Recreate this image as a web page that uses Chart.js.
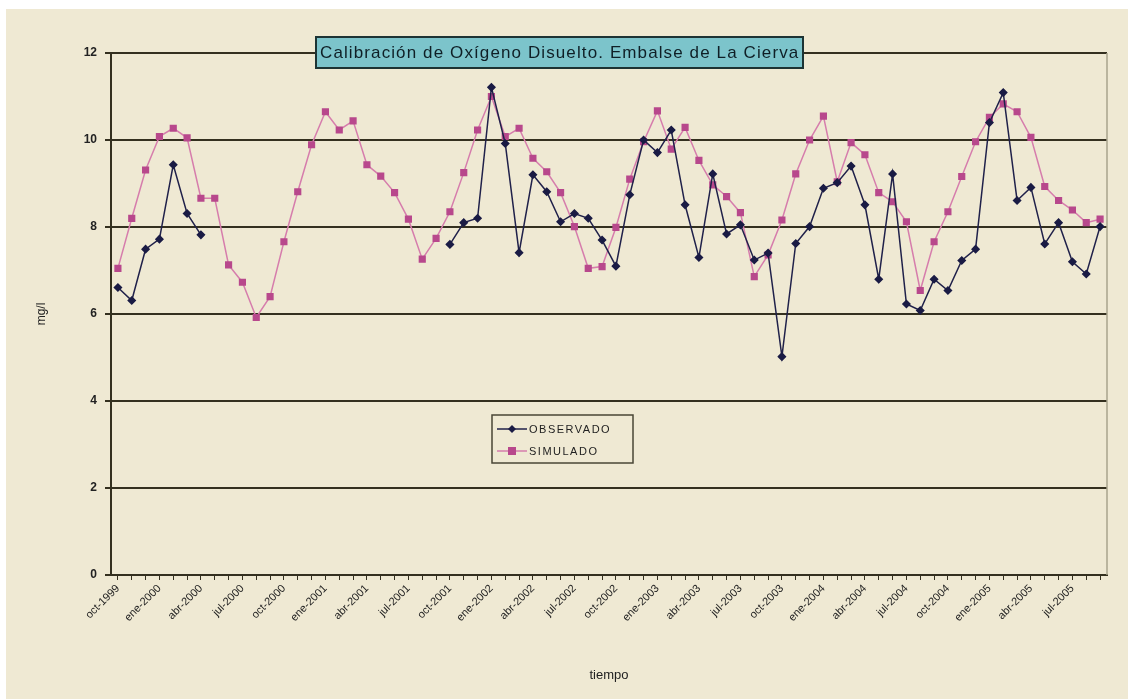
<!DOCTYPE html>
<html>
<head>
<meta charset="utf-8">
<script src="https://cdn.jsdelivr.net/npm/chart.js@4/dist/chart.umd.min.js"></script>
<style>
  body { margin: 0; background: #fff; }
</style>
</head>
<body>
<canvas id="myChart" width="1128" height="699"></canvas>
<script>
const meses = [
  'oct-1999','nov-1999','dic-1999','ene-2000','feb-2000','mar-2000','abr-2000','may-2000','jun-2000','jul-2000','ago-2000','sep-2000',
  'oct-2000','nov-2000','dic-2000','ene-2001','feb-2001','mar-2001','abr-2001','may-2001','jun-2001','jul-2001','ago-2001','sep-2001',
  'oct-2001','nov-2001','dic-2001','ene-2002','feb-2002','mar-2002','abr-2002','may-2002','jun-2002','jul-2002','ago-2002','sep-2002',
  'oct-2002','nov-2002','dic-2002','ene-2003','feb-2003','mar-2003','abr-2003','may-2003','jun-2003','jul-2003','ago-2003','sep-2003',
  'oct-2003','nov-2003','dic-2003','ene-2004','feb-2004','mar-2004','abr-2004','may-2004','jun-2004','jul-2004','ago-2004','sep-2004',
  'oct-2004','nov-2004','dic-2004','ene-2005','feb-2005','mar-2005','abr-2005','may-2005','jun-2005','jul-2005','ago-2005','sep-2005'
];

// only every third month gets a label on the axis
const etiquetas = ['oct-1999','ene-2000','abr-2000','jul-2000','oct-2000','ene-2001','abr-2001','jul-2001',
  'oct-2001','ene-2002','abr-2002','jul-2002','oct-2002','ene-2003','abr-2003','jul-2003',
  'oct-2003','ene-2004','abr-2004','jul-2004','oct-2004','ene-2005','abr-2005','jul-2005'];

const observado = [
  6.61, 6.31, 7.49, 7.72, 9.43, 8.31, 7.82, null, null, null, null, null,
  null, null, null, null, null, null, null, null, null, null, null, null,
  7.60, 8.10, 8.20, 11.21, 9.92, 7.41, 9.20, 8.81, 8.12, 8.31, 8.20, 7.70,
  7.10, 8.74, 10.00, 9.71, 10.23, 8.51, 7.30, 9.22, 7.84, 8.05, 7.24, 7.40,
  5.02, 7.62, 8.01, 8.89, 9.02, 9.40, 8.51, 6.80, 9.22, 6.23, 6.08, 6.80,
  6.54, 7.23, 7.49, 10.40, 11.09, 8.61, 8.91, 7.61, 8.10, 7.20, 6.92, 8.01
];

const simulado = [
  7.05, 8.20, 9.31, 10.08, 10.27, 10.05, 8.66, 8.66, 7.13, 6.73, 5.92, 6.40,
  7.66, 8.81, 9.89, 10.65, 10.23, 10.44, 9.43, 9.17, 8.79, 8.18, 7.26, 7.74,
  8.35, 9.25, 10.23, 11.00, 10.08, 10.27, 9.58, 9.27, 8.79, 8.01, 7.05, 7.09,
  7.99, 9.10, 9.96, 10.67, 9.79, 10.29, 9.53, 8.97, 8.70, 8.33, 6.86, 7.36,
  8.16, 9.22, 10.00, 10.55, 9.04, 9.94, 9.66, 8.79, 8.58, 8.12, 6.54, 7.66,
  8.35, 9.16, 9.96, 10.52, 10.83, 10.65, 10.06, 8.93, 8.61, 8.39, 8.10, 8.18
];

const titulo = 'Calibración de Oxígeno Disuelto. Embalse de La Cierva';

const crema = '#efe9d3';
const oscuro = '#34301f';

const fondo = {
  id: 'fondo',
  beforeDraw(chart) {
    const c = chart.ctx;
    c.save();
    c.fillStyle = '#fff';
    c.fillRect(0, 0, chart.width, chart.height);
    c.fillStyle = crema;
    c.fillRect(6, 9, chart.width - 6, chart.height - 9);
    c.restore();
  },
  afterDraw(chart) {
    const c = chart.ctx;
    const a = chart.chartArea;
    c.save();
    // right edge of the plot area
    c.strokeStyle = '#a9a38c';
    c.lineWidth = 1.5;
    c.beginPath();
    c.moveTo(a.right, a.top);
    c.lineTo(a.right, a.bottom);
    c.stroke();

    // title box
    c.fillStyle = '#7cc4cb';
    c.fillRect(316, 37, 487, 31);
    c.strokeStyle = '#1d3434';
    c.lineWidth = 2;
    c.strokeRect(316, 37, 487, 31);
    c.fillStyle = '#0f1f26';
    c.font = '17px "Liberation Sans Narrow", "Liberation Sans", Arial, sans-serif';
    c.textBaseline = 'middle';
    const w = c.measureText(titulo).width;
    c.letterSpacing = Math.max(0, (478 - w) / (titulo.length - 1)).toFixed(2) + 'px';
    c.textAlign = 'left';
    c.fillText(titulo, 320, 53);
    c.letterSpacing = '0px';

    // legend box
    c.fillStyle = crema;
    c.fillRect(492, 415, 141, 48);
    c.strokeStyle = '#4a4636';
    c.lineWidth = 1.5;
    c.strokeRect(492, 415, 141, 48);
    const filas = [
      { ds: chart.data.datasets[0], y: 429 },
      { ds: chart.data.datasets[1], y: 451 }
    ];
    c.font = '11px "Liberation Sans", Arial, sans-serif';
    c.letterSpacing = '1.5px';
    filas.forEach(f => {
      c.strokeStyle = f.ds.borderColor;
      c.lineWidth = 1.5;
      c.beginPath();
      c.moveTo(497, f.y);
      c.lineTo(527, f.y);
      c.stroke();
      c.fillStyle = f.ds.pointBackgroundColor;
      if (f.ds.pointStyle === 'rect') {
        c.fillRect(508, f.y - 4, 8, 8);
      } else {
        c.beginPath();
        c.moveTo(512, f.y - 4);
        c.lineTo(516, f.y);
        c.lineTo(512, f.y + 4);
        c.lineTo(508, f.y);
        c.closePath();
        c.fill();
      }
      c.fillStyle = '#222';
      c.fillText(f.ds.label, 529, f.y + 1);
    });
    c.restore();
  }
};

const ctx = document.getElementById('myChart');

new Chart(ctx, {
  type: 'line',
  data: {
    labels: meses,
    datasets: [{
      label: 'OBSERVADO',
      data: observado,
      borderColor: '#20214a',
      backgroundColor: '#20214a',
      pointBackgroundColor: '#1a1b44',
      pointBorderColor: '#1a1b44',
      pointStyle: 'rectRot',
      pointRadius: 3.5,
      borderWidth: 1.5,
      spanGaps: false,
      tension: 0
    }, {
      label: 'SIMULADO',
      data: simulado,
      borderColor: '#d67dac',
      backgroundColor: '#b8488c',
      pointBackgroundColor: '#b8488c',
      pointBorderColor: '#b8488c',
      pointStyle: 'rect',
      pointRadius: 4,
      borderWidth: 1.5,
      tension: 0
    }]
  },
  options: {
    responsive: false,
    animation: false,
    layout: { padding: { left: 20, right: 21, top: 53, bottom: 6 } },
    plugins: {
      legend: { display: false },
      tooltip: { enabled: false }
    },
    scales: {
      x: {
        offset: true,
        grid: { drawOnChartArea: false, drawTicks: true, tickLength: 5, color: oscuro, lineWidth: 1 },
        border: { display: true, color: oscuro, width: 2 },
        ticks: {
          autoSkip: false,
          maxRotation: 45,
          minRotation: 45,
          padding: 2,
          color: '#222',
          font: { family: '"Liberation Sans", Arial, sans-serif', size: 11 },
          callback: function (v, i) {
            const m = meses[i];
            return etiquetas.includes(m) ? m : '';
          }
        },
        title: {
          display: true,
          text: 'tiempo',
          color: '#222',
          font: { family: '"Liberation Sans", Arial, sans-serif', size: 13 },
          padding: { top: 0, bottom: 10 }
        },
        afterFit: s => { s.height = 118; }
      },
      y: {
        min: 0,
        max: 12,
        ticks: {
          stepSize: 2,
          padding: 8,
          color: '#222',
          font: { family: '"Liberation Sans", Arial, sans-serif', size: 12, weight: 'bold' }
        },
        grid: { color: oscuro, lineWidth: 2, tickLength: 6 },
        border: { display: true, color: oscuro, width: 2 },
        title: {
          display: true,
          text: 'mg/l',
          color: '#222',
          font: { family: '"Liberation Sans", Arial, sans-serif', size: 12 },
          padding: { top: 14, bottom: 0 }
        },
        afterFit: s => { s.width = 91; }
      }
    }
  },
  plugins: [fondo]
});
</script>
</body>
</html>
